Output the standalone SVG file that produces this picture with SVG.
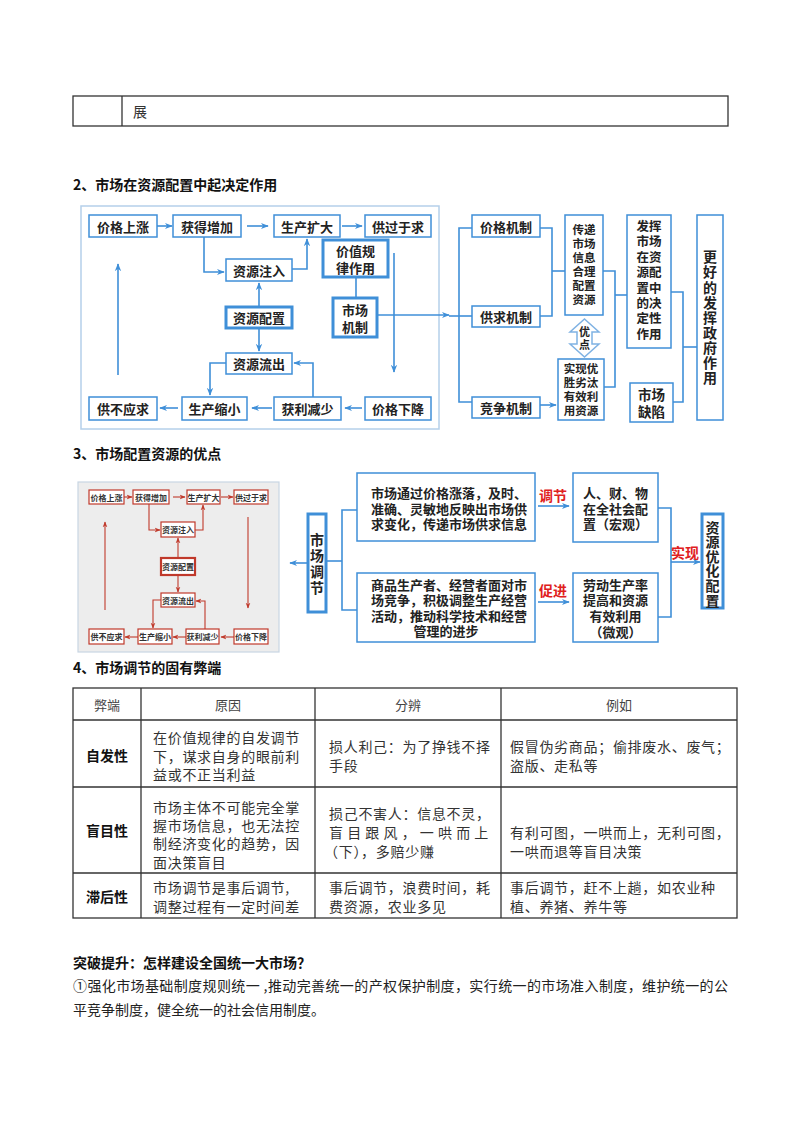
<svg xmlns="http://www.w3.org/2000/svg" width="800" height="1132" viewBox="0 0 800 1132">
<defs>
<style>
.bx{fill:#fff;stroke:#3f8fd8;stroke-width:1.5}
.bk{fill:#fff;stroke:#3f8fd8;stroke-width:3}
.t{font-family:"Noto Sans CJK SC",sans-serif;font-weight:bold;font-size:13px;fill:#222;text-anchor:middle;dominant-baseline:central}
.s{font-size:11.5px}
.v{font-size:12.5px}
.vt{writing-mode:vertical-rl;text-orientation:upright;font-size:14px}
.l{text-anchor:start}
.red{fill:#e02020;font-size:14px}
.ln{stroke:#3f8fd8;stroke-width:1.6;fill:none}
.arw{stroke:#3f8fd8;stroke-width:1.6;fill:none;marker-end:url(#ab)}
.rb{fill:#fff;stroke:#c0392b;stroke-width:1.2}
.rk{fill:#fff;stroke:#c0392b;stroke-width:2.2}
.rt{font-family:"Noto Sans CJK SC",sans-serif;font-weight:bold;font-size:8px;fill:#333;text-anchor:middle;dominant-baseline:central}
.rln{stroke:#c0392b;stroke-width:1.1;fill:none}
.rar{stroke:#c0392b;stroke-width:1.1;fill:none;marker-end:url(#arr)}
.h{font-family:"Noto Sans CJK SC",sans-serif;font-weight:bold;font-size:14px;fill:#111;dominant-baseline:central}
.tb{stroke:#333;stroke-width:1.3;fill:none}
.th{font-family:"Noto Sans CJK SC",sans-serif;font-size:13px;fill:#444;text-anchor:middle;dominant-baseline:central}
.tl{font-family:"Noto Sans CJK SC",sans-serif;font-weight:bold;font-size:14px;fill:#111;text-anchor:middle;dominant-baseline:central}
.tc{font-family:"Noto Sans CJK SC",sans-serif;font-size:14px;fill:#333;dominant-baseline:central;letter-spacing:0.7px}
.p{font-family:"Noto Sans CJK SC",sans-serif;font-size:14px;fill:#222;dominant-baseline:central}
</style>
<marker id="ab" viewBox="0 0 10 10" refX="9" refY="5" markerWidth="8" markerHeight="8" markerUnits="userSpaceOnUse" orient="auto"><path d="M0,1 L10,5 L0,9 L3,5 z" fill="#3f8fd8"/></marker>
<marker id="arr" viewBox="0 0 10 10" refX="9" refY="5" markerWidth="6" markerHeight="6" markerUnits="userSpaceOnUse" orient="auto"><path d="M0,1 L10,5 L0,9 L3,5 z" fill="#c0392b"/></marker>
</defs>
<rect width="800" height="1132" fill="#fff"/>

<!-- top table fragment -->
<g id="top-table">
<rect x="73" y="96" width="655" height="30" class="tb"/>
<line x1="122" y1="96" x2="122" y2="126" class="tb"/>
<text x="133" y="111" class="tc">展</text>
</g>

<text x="73" y="184" class="h">2、市场在资源配置中起决定作用</text>

<!-- Diagram 1 -->
<rect x="81" y="206" width="358" height="223" fill="none" stroke="#b5d0ea" stroke-width="1.5"/>
<g id="connectors1">
<path d="M157,226 H172" class="arw"/>
<path d="M247,226 H268" class="arw"/>
<path d="M342,226 H362" class="arw"/>
<path d="M204,237 V272 H224" class="arw"/>
<path d="M292,269 H307 V239" class="arw"/>
<path d="M259,307 V283" class="arw"/>
<path d="M259,328 V351" class="arw"/>
<path d="M356,277 V298" class="ln"/>
<path d="M377,315 H449" class="arw"/>
<path d="M449,316 H472" class="ln"/>
<path d="M472,228 H459 V402 H472" class="ln"/>
<path d="M394,253 V372" class="arw"/>
<path d="M118,375 V264" class="arw"/>
<path d="M362,408 H345" class="arw"/>
<path d="M272,408 H252" class="arw"/>
<path d="M178,408 H160" class="arw"/>
<path d="M313,397 V363 H294" class="arw"/>
<path d="M226,363 H210 V395" class="arw"/>
<path d="M540,228 H552 V316 H540" class="ln"/>
<path d="M552,271 H565" class="ln"/>
<path d="M540,405 H556" class="arw"/>
<path d="M603,271 H615 V387 H604" class="ln"/>
<path d="M615,295 H627" class="ln"/>
<path d="M671,292 H683 V402 H673" class="ln"/>
<path d="M683,347 H697" class="ln"/>
</g>
<g id="n-jgsz"><rect x="89" y="215" width="68" height="22" class="bx"/><text x="123" y="226" class="t">价格上涨</text></g>
<g id="n-hdzj"><rect x="173" y="215" width="68" height="22" class="bx"/><text x="207" y="226" class="t">获得增加</text></g>
<g id="n-sckd"><rect x="274" y="215" width="66" height="22" class="bx"/><text x="307" y="226" class="t">生产扩大</text></g>
<g id="n-ggyq"><rect x="365" y="215" width="66" height="22" class="bx"/><text x="398" y="226" class="t">供过于求</text></g>
<g id="n-jzgl"><rect x="323" y="240" width="65" height="37" class="bk"/><text x="355.5" y="250" class="t">价值规</text><text x="355.5" y="267" class="t">律作用</text></g>
<g id="n-zyzr"><rect x="226" y="259" width="66" height="22" class="bx"/><text x="259" y="270" class="t">资源注入</text></g>
<g id="n-zypz"><rect x="226" y="307" width="66" height="21" class="bk"/><text x="259" y="317.5" class="t">资源配置</text></g>
<g id="n-scjz"><rect x="333" y="298" width="44" height="39" class="bk"/><text x="355" y="309" class="t">市场</text><text x="355" y="326" class="t">机制</text></g>
<g id="n-zylc"><rect x="226" y="353" width="66" height="21" class="bx"/><text x="259" y="363.5" class="t">资源流出</text></g>
<g id="n-gbyq"><rect x="89" y="397" width="68" height="23" class="bx"/><text x="123" y="408.5" class="t">供不应求</text></g>
<g id="n-scsx"><rect x="182" y="397" width="65" height="23" class="bx"/><text x="214.5" y="408.5" class="t">生产缩小</text></g>
<g id="n-hljs"><rect x="274" y="397" width="67" height="23" class="bx"/><text x="307.5" y="408.5" class="t">获利减少</text></g>
<g id="n-jgxj"><rect x="365" y="397" width="66" height="23" class="bx"/><text x="398" y="408.5" class="t">价格下降</text></g>

<g id="n-jgjz"><rect x="472" y="215" width="68" height="22" class="bx"/><text x="506" y="226" class="t">价格机制</text></g>
<g id="n-gqjz"><rect x="472" y="306" width="68" height="21" class="bx"/><text x="506" y="316.5" class="t">供求机制</text></g>
<g id="n-jzjz"><rect x="472" y="397" width="68" height="21" class="bx"/><text x="506" y="407.5" class="t">竞争机制</text></g>
<g id="n-cdxx"><rect x="565" y="215" width="38" height="100" class="bx"/>
<text class="t s"><tspan x="584" y="229">传递</tspan><tspan x="584" y="243">市场</tspan><tspan x="584" y="257">信息</tspan><tspan x="584" y="271">合理</tspan><tspan x="584" y="285">配置</tspan><tspan x="584" y="299">资源</tspan></text></g>
<g id="n-yd"><path d="M584.5,319 L599,332 L592,332 L592,344 L599,344 L584.5,357 L570,344 L577,344 L577,332 L570,332 Z" fill="#fff" stroke="#7fb2e3" stroke-width="1.5"/>
<text x="584.5" y="339.5" class="t vt" style="font-size:11px;letter-spacing:2px">优点</text></g>
<g id="n-sxys"><rect x="558" y="359" width="46" height="61" class="bx"/>
<text class="t s"><tspan x="581" y="368">实现优</tspan><tspan x="581" y="382">胜劣汰</tspan><tspan x="581" y="396">有效利</tspan><tspan x="581" y="410">用资源</tspan></text></g>
<g id="n-fhsc"><rect x="627" y="215" width="44" height="133" class="bx"/>
<text class="t v"><tspan x="649" y="225">发挥</tspan><tspan x="649" y="240.4">市场</tspan><tspan x="649" y="255.8">在资</tspan><tspan x="649" y="271.2">源配</tspan><tspan x="649" y="286.6">置中</tspan><tspan x="649" y="302">的决</tspan><tspan x="649" y="317.4">定性</tspan><tspan x="649" y="332.8">作用</tspan></text></g>
<g id="n-scqx"><rect x="630" y="383" width="43" height="39" class="bx"/>
<text class="t" style="font-size:13.5px"><tspan x="651.5" y="394">市场</tspan><tspan x="651.5" y="411">缺陷</tspan></text></g>
<g id="n-ghfh"><rect x="697" y="215" width="26" height="205" class="bx"/>
<text x="710" y="318" class="t vt" style="letter-spacing:1.1px">更好的发挥政府作用</text></g>

<text x="73" y="453" class="h">3、市场配置资源的优点</text>

<!-- Diagram 2: red picture -->
<g id="red-picture">
<rect x="78" y="482" width="201" height="170" fill="#ededed" stroke="#c9d6e3" stroke-width="1.2"/>
<g id="red-connectors">
<path d="M124,497 H132" class="rar"/>
<path d="M173,497 H185" class="rar"/>
<path d="M221,497 H233" class="rar"/>
<path d="M149,504 V530 H160" class="rar"/>
<path d="M195,530 H203 V505" class="rar"/>
<path d="M178,558 V538" class="rar"/>
<path d="M178,575 V592" class="rar"/>
<path d="M248,517 V608" class="rar"/>
<path d="M105,610 V522" class="rar"/>
<path d="M234,637 H221" class="rar"/>
<path d="M186,637 H173" class="rar"/>
<path d="M138,637 H125" class="rar"/>
<path d="M205,629 V601 H196" class="rar"/>
<path d="M161,600 H153 V628" class="rar"/>
</g>
<g id="r-jgsz"><rect x="89" y="490" width="35" height="14" class="rb"/><text x="106.5" y="497" class="rt">价格上涨</text></g>
<g id="r-hdzj"><rect x="133" y="490" width="36" height="14" class="rb"/><text x="151" y="497" class="rt">获得增加</text></g>
<g id="r-sckd"><rect x="187" y="490" width="33" height="14" class="rb"/><text x="203.5" y="497" class="rt">生产扩大</text></g>
<g id="r-ggyq"><rect x="234" y="490" width="34" height="14" class="rb"/><text x="251" y="497" class="rt">供过于求</text></g>
<g id="r-zyzr"><rect x="161" y="522" width="34" height="15" class="rb"/><text x="178" y="529.5" class="rt">资源注入</text></g>
<g id="r-zypz"><rect x="161" y="558" width="34" height="17" class="rk"/><text x="178" y="566.5" class="rt">资源配置</text></g>
<g id="r-zylc"><rect x="161" y="593" width="34" height="14" class="rb"/><text x="178" y="600" class="rt">资源流出</text></g>
<g id="r-gbyq"><rect x="89" y="629" width="35" height="15" class="rb"/><text x="106.5" y="636.5" class="rt">供不应求</text></g>
<g id="r-scsx"><rect x="138" y="629" width="34" height="15" class="rb"/><text x="155" y="636.5" class="rt">生产缩小</text></g>
<g id="r-hljs"><rect x="186" y="629" width="33" height="15" class="rb"/><text x="202.5" y="636.5" class="rt">获利减少</text></g>
<g id="r-jgxj"><rect x="234" y="629" width="34" height="15" class="rb"/><text x="251" y="636.5" class="rt">价格下降</text></g>
</g>

<g id="connectors2">
<path d="M308,563 H290" class="arw"/>
<path d="M326,561 H342" class="ln"/>
<path d="M357,510 H342 V610 H357" class="ln"/>
<path d="M538,506 H569" class="arw"/>
<path d="M538,602 H569" class="arw"/>
<path d="M658,508 H671 V617 H658" class="ln"/>
<path d="M671,562 H700" class="arw"/>
</g>
<g id="n-sctj"><rect x="308" y="514" width="18" height="98" class="bk"/>
<text x="317" y="565" class="t vt" style="letter-spacing:2px">市场调节</text></g>
<g id="n-top"><rect x="357" y="473" width="178" height="68" class="bx"/>
<text class="t l"><tspan x="371" y="492">市场通过价格涨落，及时、</tspan><tspan x="371" y="507.6">准确、灵敏地反映出市场供</tspan><tspan x="371" y="523.2">求变化，传递市场供求信息</tspan></text></g>
<g id="n-bot"><rect x="357" y="573" width="178" height="69" class="bx"/>
<text class="t l"><tspan x="371" y="583.5">商品生产者、经营者面对市</tspan><tspan x="371" y="599.2">场竞争，积极调整生产经营</tspan><tspan x="371" y="614.9">活动，推动科学技术和经营</tspan></text>
<text x="446" y="630.6" class="t">管理的进步</text></g>
<text x="553" y="495" class="t red">调节</text>
<text x="553" y="590" class="t red">促进</text>
<g id="n-rcw"><rect x="573" y="473" width="85" height="69" class="bx"/>
<text class="t"><tspan x="615.5" y="492">人、财、物</tspan><tspan x="615.5" y="507.6">在全社会配</tspan><tspan x="615.5" y="523.2">置（宏观）</tspan></text></g>
<g id="n-ldsc"><rect x="573" y="573" width="85" height="69" class="bx"/>
<text class="t"><tspan x="615.5" y="583.5">劳动生产率</tspan><tspan x="615.5" y="599.2">提高和资源</tspan><tspan x="615.5" y="614.9">有效利用</tspan><tspan x="615.5" y="630.6">（微观）</tspan></text></g>
<text x="685" y="552" class="t red">实现</text>
<g id="n-zyyh"><rect x="702" y="514" width="21" height="94" class="bk"/>
<text x="712.5" y="564" class="t vt" style="letter-spacing:0.6px">资源优化配置</text></g>

<text x="73" y="667" class="h">4、市场调节的固有弊端</text>

<!-- Table -->
<g id="table">
<rect x="73" y="688" width="664" height="230" class="tb"/>
<line x1="73" y1="720" x2="737" y2="720" class="tb"/>
<line x1="73" y1="787" x2="737" y2="787" class="tb"/>
<line x1="73" y1="873" x2="737" y2="873" class="tb"/>
<line x1="141" y1="688" x2="141" y2="918" class="tb"/>
<line x1="315" y1="688" x2="315" y2="918" class="tb"/>
<line x1="501" y1="688" x2="501" y2="918" class="tb"/>
<text x="107" y="704" class="th">弊端</text>
<text x="228" y="704" class="th">原因</text>
<text x="408" y="704" class="th">分辨</text>
<text x="619" y="704" class="th">例如</text>
<text x="107" y="755" class="tl">自发性</text>
<text x="107" y="830" class="tl">盲目性</text>
<text x="107" y="896" class="tl">滞后性</text>
<text class="tc"><tspan x="153" y="737">在价值规律的自发调节</tspan><tspan x="153" y="756">下，谋求自身的眼前利</tspan><tspan x="153" y="774">益或不正当利益</tspan></text>
<text class="tc"><tspan x="329" y="746">损人利己：为了挣钱不择</tspan><tspan x="329" y="765">手段</tspan></text>
<text class="tc"><tspan x="510" y="746">假冒伪劣商品；偷排废水、废气；</tspan><tspan x="510" y="765">盗版、走私等</tspan></text>
<text class="tc"><tspan x="153" y="807">市场主体不可能完全掌</tspan><tspan x="153" y="825">握市场信息，也无法控</tspan><tspan x="153" y="843">制经济变化的趋势，因</tspan><tspan x="153" y="862">面决策盲目</tspan></text>
<text x="329" y="813" class="tc">损己不害人：信息不灵，</text>
<text x="329" y="832" class="tc" textLength="160" lengthAdjust="spacing">盲目跟风，一哄而上</text>
<text x="324" y="851" class="tc">（下），多赔少赚</text>
<text class="tc"><tspan x="510" y="832">有利可图，一哄而上，无利可图，</tspan><tspan x="510" y="851">一哄而退等盲目决策</tspan></text>
<text class="tc"><tspan x="153" y="887">市场调节是事后调节,</tspan><tspan x="153" y="906">调整过程有一定时间差</tspan></text>
<text class="tc"><tspan x="329" y="887">事后调节，浪费时间，耗</tspan><tspan x="329" y="906">费资源，农业多见</tspan></text>
<text class="tc"><tspan x="510" y="887">事后调节，赶不上趟，如农业种</tspan><tspan x="510" y="906">植、养猪、养牛等</tspan></text>
</g>

<text x="73" y="962" class="h">突破提升：怎样建设全国统一大市场？</text>
<text x="73" y="985" class="p" textLength="655" lengthAdjust="spacing">①强化市场基础制度规则统一 ,推动完善统一的产权保护制度，实行统一的市场准入制度，维护统一的公</text>
<text x="73" y="1009" class="p">平竞争制度，健全统一的社会信用制度。</text>
</svg>
